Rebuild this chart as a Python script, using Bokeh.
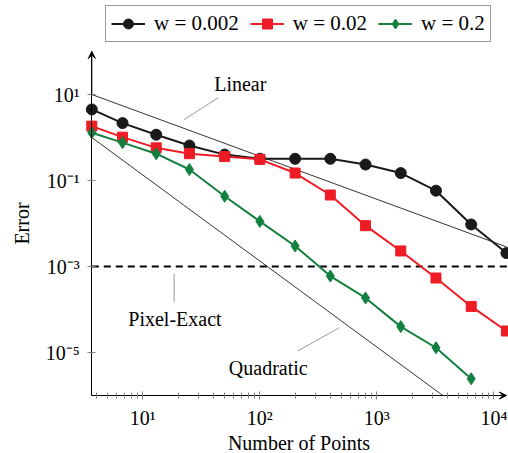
import math
from bokeh.plotting import figure
from bokeh.models import (LogAxis, FixedTicker, CustomJSTickFormatter, Legend, LegendItem,
                          Arrow, VeeHead, Range1d, Label)
from bokeh.embed import file_html
from bokeh.resources import INLINE

# ---------------- data ----------------
n_points = [3.66, 6.7, 13, 25, 50, 100, 200, 400, 800, 1600, 3200, 6400, 12800]
err_w0002 = [4.5, 2.16, 1.16, 0.65, 0.40, 0.32, 0.32, 0.32, 0.235, 0.149, 0.058, 0.0095, 0.00205]
err_w002 = [1.84, 1.02, 0.575, 0.42, 0.36, 0.31, 0.149, 0.046, 0.0089, 0.0023, 0.00054, 0.000118, 3.16e-5]
err_w02 = [1.29, 0.76, 0.42, 0.18, 0.043, 0.0112, 0.003, 0.0006, 0.000186, 4.0e-5, 1.29e-5, 2.45e-6]

series_labels = ["w = 0.002", "w = 0.02", "w = 0.2"]

linear_x = [3.66, 12800]
linear_y = [10.0, 0.00286]
quad_x = [3.66, 3660]
quad_y = [1.0, 1e-6]
pixel_exact = 1e-3

x_major = [10, 100, 1000, 10000]
y_major = [10, 0.1, 1e-3, 1e-5]
y_bounds = (1e-6, 1e2)

# annotation anchors (data coordinates)
linear_label = (68, 17.7)
linear_pin = ([22.4, 44], [2.58, 8.4])
pixel_label = (18.8, 6.1e-5)
pixel_pin = ([18.5, 18.5], [6.8e-4, 1.5e-4])
quad_label = (118, 4.4e-6)
quad_pin = ([210, 476], [1.08e-5, 3.75e-5])

FONT = "Liberation Serif"
FS = "20px"
W, H = 508, 453
X_AXIS_PX = 91.3
X_DEC = 117
Y_TOP_PX = 51
Y_DEC = 43
lx0 = math.log10(n_points[0]) - X_AXIS_PX / X_DEC
lx1 = lx0 + W / X_DEC
ly1 = math.log10(y_bounds[1]) + Y_TOP_PX / Y_DEC
ly0 = ly1 - H / Y_DEC

p = figure(width=W, height=H, x_axis_type="log", y_axis_type="log",
           x_axis_location=None, y_axis_location=None,
           x_range=Range1d(10 ** lx0, 10 ** lx1), y_range=Range1d(10 ** ly0, 10 ** ly1),
           output_backend="svg", toolbar_location=None, min_border=0)
p.outline_line_color = None
p.grid.grid_line_color = None
p.background_fill_color = "white"
p.border_fill_color = "white"

fmt = CustomJSTickFormatter(code="""
const sup = {"-": "\u207b", "0": "\u2070", "1": "\u00b9", "2": "\u00b2", "3": "\u00b3",
             "4": "\u2074", "5": "\u2075", "6": "\u2076", "7": "\u2077", "8": "\u2078", "9": "\u2079"};
const e = Math.round(Math.log10(tick));
return "10" + String(e).split("").map(c => sup[c]).join("");
""")

x_minor = [k * 10 ** d for d in range(0, 5) for k in range(2, 10)
           if n_points[0] <= k * 10 ** d <= n_points[-1]]
xaxis = LogAxis(fixed_location=y_bounds[0], bounds=(n_points[0], n_points[-1]),
                ticker=FixedTicker(ticks=x_major, minor_ticks=x_minor), formatter=fmt,
                axis_label="Number of Points")
yaxis = LogAxis(fixed_location=n_points[0], bounds=y_bounds,
                ticker=FixedTicker(ticks=y_major, minor_ticks=[]), formatter=fmt,
                axis_label="Error")
for ax in (xaxis, yaxis):
    ax.axis_line_color = "black"
    ax.axis_line_width = 1
    ax.major_tick_line_color = "#808080"
    ax.minor_tick_line_color = "#808080"
    ax.major_tick_in = 4
    ax.major_tick_out = 4
    ax.minor_tick_in = 3
    ax.minor_tick_out = 3
    ax.major_label_text_font = FONT
    ax.major_label_text_font_size = FS
    ax.major_label_text_color = "black"
    ax.axis_label_text_font = FONT
    ax.axis_label_text_font_size = FS
    ax.axis_label_text_font_style = "normal"
    ax.axis_label_text_color = "black"
xaxis.major_label_standoff = 7
xaxis.axis_label_standoff = 0
yaxis.major_label_standoff = 8
yaxis.axis_label_standoff = 10
p.add_layout(xaxis, "below")
p.add_layout(yaxis, "left")

p.add_layout(Arrow(end=VeeHead(size=7, fill_color="black", line_color="black"),
                   x_start=x_major[-1], y_start=y_bounds[0], x_end=n_points[-1], y_end=y_bounds[0],
                   line_color="black", line_width=1))
p.add_layout(Arrow(end=VeeHead(size=7, fill_color="black", line_color="black"),
                   x_start=n_points[0], y_start=y_major[0], x_end=n_points[0], y_end=y_bounds[1],
                   line_color="black", line_width=1))

# reference lines
p.line(linear_x, linear_y, line_color="black", line_width=0.8)
p.line(quad_x, quad_y, line_color="black", line_width=0.8)
p.line([n_points[0], 10 ** lx1], [pixel_exact, pixel_exact], line_color="black",
       line_width=2, line_dash="7 5")

# pins
for xs, ys in (linear_pin, pixel_pin, quad_pin):
    p.line(xs, ys, line_color="#9a9a9a", line_width=1)
for (lx, ly), txt in ((linear_label, "Linear"), (pixel_label, "Pixel-Exact"), (quad_label, "Quadratic")):
    p.add_layout(Label(x=lx, y=ly, text=txt, text_align="center", text_baseline="middle",
                       text_font=FONT, text_font_size=FS, text_color="black"))

colors = ["#1a1a1a", "#ee1c25", "#138040"]
markers = ["circle", "square", "diamond"]
sizes = [11, 10, 12]
ys_all = [err_w0002, err_w002, err_w02]
items = []
for lab, ys, c, m, s in zip(series_labels, ys_all, colors, markers, sizes):
    xs = n_points[:len(ys)]
    lr = p.line(xs, ys, line_color=c, line_width=2)
    sr = p.scatter(xs, ys, marker=m, size=s, fill_color=c, line_color=c)
    items.append(LegendItem(label=lab, renderers=[lr, sr]))

legend = Legend(items=items, orientation="horizontal", location=(105, 411),
                label_text_font=FONT, label_text_font_size="21px", label_text_color="black",
                glyph_width=34, glyph_height=25, padding=5, spacing=11, label_standoff=9,
                margin=0, border_line_color="#333333", border_line_width=1,
                background_fill_color="white", background_fill_alpha=1.0)
p.add_layout(legend)

open("out.html", "w").write(file_html(p, INLINE))
